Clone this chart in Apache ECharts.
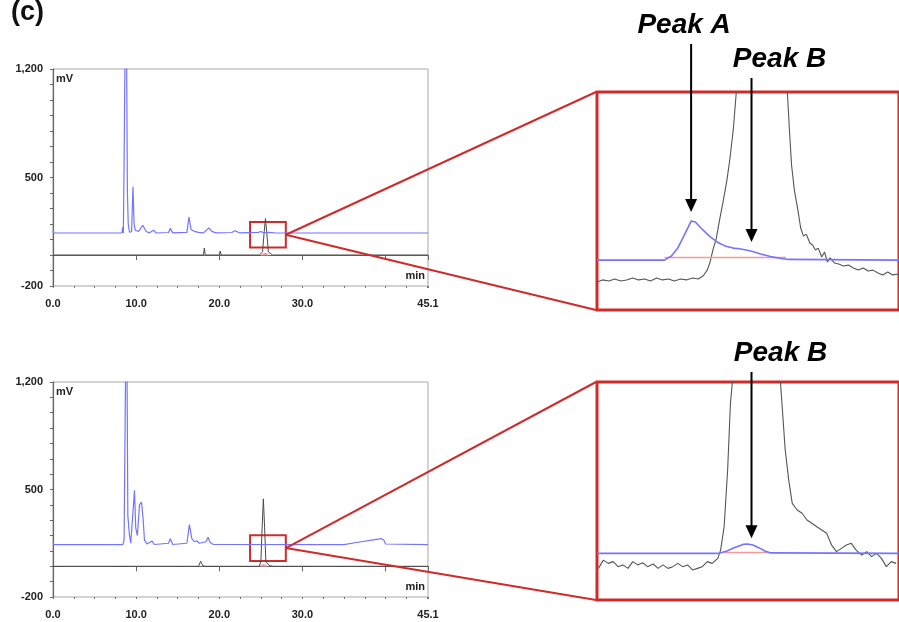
<!DOCTYPE html>
<html>
<head>
<meta charset="utf-8">
<script src="https://cdn.jsdelivr.net/npm/echarts@6/dist/echarts.min.js"></script>
<style>
  html, body { margin: 0; padding: 0; background: #fff; }
  #chart { width: 899px; height: 622px; }
</style>
</head>
<body>
<div id="chart"></div>
<script>
// ---------- Chromatogram traces (time in min, signal in mV) ----------
// Run 1: UV trace (blue, offset baseline) and fluorescence trace (black)
const run1Blue = [
  [0, 160], [0.1, 142], [8.3, 142], [8.38, 180], [8.46, 142], [8.55, 600], [8.68, 1400],
  [8.85, 1300], [8.95, 400], [9.05, 200], [9.2, 148], [9.45, 150], [9.62, 440], [9.75, 200],
  [9.9, 160], [10.3, 152], [10.8, 192], [11.2, 152], [11.6, 143], [12.1, 160], [12.4, 142],
  [13.9, 145], [14.1, 172], [14.4, 143], [16.1, 146], [16.35, 245], [16.6, 165], [17.0, 152],
  [17.5, 146], [18.1, 143], [18.75, 175], [19.1, 152], [19.6, 143], [21.5, 145], [21.9, 156],
  [22.4, 143], [24.7, 146], [25.0, 152], [25.3, 144], [26.0, 146], [26.8, 142], [45.1, 142]
];
const run1Black = [
  [0, 0], [0.1, 8], [0.2, 0], [18.1, 0], [18.2, 45], [18.3, 2], [18.6, 0], [20.0, 0],
  [20.1, 25], [20.2, 2], [20.5, 0], [24.8, 0], [25.2, 20], [25.4, 150], [25.55, 235],
  [25.7, 150], [25.9, 20], [26.4, 0], [45.1, 0]
];
const run1Integration = [[25.1, 2], [25.5, 7], [25.9, 2]];

// Run 2
const run2Blue = [
  [0, 160], [0.1, 141], [8.4, 141], [8.55, 170], [8.62, 600], [8.75, 1400], [8.9, 1300],
  [9.0, 330], [9.2, 200], [9.35, 150], [9.55, 160], [9.8, 495], [9.95, 250], [10.15, 200],
  [10.4, 400], [10.65, 417], [10.85, 300], [11.0, 170], [11.3, 145], [11.9, 165], [12.2, 142],
  [13.9, 150], [14.1, 180], [14.4, 142], [16.1, 150], [16.4, 271], [16.7, 180], [17.0, 160],
  [17.3, 166], [17.6, 150], [18.4, 160], [18.65, 189], [18.9, 155], [19.3, 142], [35.0, 141],
  [36.5, 155], [38.5, 172], [39.5, 180], [39.8, 170], [40.0, 145], [40.2, 141], [45.1, 141]
];
const run2Black = [
  [0, 0], [0.1, 12], [0.25, 0], [17.5, 0], [17.75, 33], [18.0, 5], [18.3, 0], [21.1, 0],
  [21.3, 10], [21.5, 0], [24.8, 0], [25.0, 30], [25.15, 250], [25.3, 439], [25.45, 250],
  [25.6, 30], [26.0, 5], [26.5, 0], [45.1, 0]
];
const run2Integration = [[24.95, 2], [25.3, 7], [25.7, 2]];

// Enlarged window (23.7 – 28.0 min), detail signal units
const detail1Blue = [
  [23.70, 22.9], [24.66, 22.9], [24.76, 24.8], [24.85, 28.4], [24.93, 33.5], [25.00, 38.1],
  [25.04, 40.8], [25.10, 40.4], [25.18, 37.6], [25.30, 33.9], [25.41, 31.2], [25.52, 29.4],
  [25.64, 28.4], [25.75, 28.0], [25.89, 27.1], [26.03, 25.7], [26.17, 24.5], [26.32, 23.6],
  [26.43, 23.2], [28.00, 22.9]
];
const detail1Black = [
  [23.70, 12.8], [23.78, 13.8], [23.87, 13.3], [23.95, 14.2], [24.04, 13.3], [24.12, 13.8],
  [24.21, 14.7], [24.29, 13.8], [24.38, 14.2], [24.46, 13.3], [24.55, 14.7], [24.63, 13.8],
  [24.72, 14.2], [24.80, 13.3], [24.89, 14.2], [24.97, 13.8], [25.06, 14.7], [25.14, 14.2],
  [25.21, 15.6], [25.27, 18.3], [25.31, 22.0], [25.35, 27.5], [25.40, 33.0], [25.44, 40.4],
  [25.50, 50.5], [25.55, 59.6], [25.59, 68.8], [25.64, 82.6], [25.68, 98.6], [25.72, 114.7],
  [26.03, 330], [26.37, 114.7], [26.41, 100], [26.44, 82.6], [26.47, 66.5], [26.51, 55.0],
  [26.56, 45.9], [26.60, 37.6], [26.64, 33.9], [26.68, 34.8], [26.73, 30.7], [26.77, 29.8],
  [26.81, 27.5], [26.85, 28.4], [26.90, 24.3], [26.94, 26.6], [26.98, 22.0], [27.02, 23.9],
  [27.08, 21.6], [27.14, 21.1], [27.21, 20.2], [27.28, 20.6], [27.35, 19.3], [27.42, 18.3],
  [27.49, 19.3], [27.56, 17.9], [27.63, 18.3], [27.70, 17.0], [27.77, 16.1], [27.84, 17.4],
  [27.91, 16.1], [28.00, 16.5]
];
const detail1Integration = [[24.66, 24.1], [26.39, 24.1]];

const detail2Blue = [
  [23.70, 21.4], [25.44, 21.4], [25.55, 22.5], [25.67, 24.2], [25.78, 25.5], [25.84, 25.7],
  [25.92, 25.2], [26.01, 23.9], [26.09, 22.5], [26.17, 21.6], [28.00, 21.4]
];
const detail2Black = [
  [23.72, 14.5], [23.79, 18.3], [23.86, 16.8], [23.93, 17.6], [24.00, 15.3], [24.07, 16.1],
  [24.14, 14.5], [24.21, 17.6], [24.28, 16.1], [24.35, 17.1], [24.42, 15.3], [24.50, 16.5],
  [24.57, 14.5], [24.64, 16.1], [24.71, 14.5], [24.78, 15.3], [24.85, 16.8], [24.92, 15.3],
  [24.99, 16.1], [25.06, 13.8], [25.13, 14.5], [25.20, 15.3], [25.27, 17.6], [25.34, 16.8],
  [25.42, 19.1], [25.46, 22.9], [25.51, 33.6], [25.56, 59.6], [25.60, 90.2], [25.63, 100.8],
  [25.96, 300], [26.31, 100.8], [26.38, 68.8], [26.43, 55.0], [26.48, 44.3], [26.55, 41.3],
  [26.62, 39.8], [26.69, 36.7], [26.76, 35.2], [26.83, 33.6], [26.90, 32.1], [26.97, 30.6],
  [27.04, 25.2], [27.11, 22.2], [27.18, 23.7], [27.25, 25.2], [27.32, 26.0], [27.39, 22.9],
  [27.47, 20.6], [27.54, 22.2], [27.61, 19.9], [27.68, 21.4], [27.75, 19.1], [27.82, 15.3],
  [27.89, 17.6], [27.96, 16.8]
];
const detail2Integration = [[25.51, 21.8], [26.16, 21.8]];

// Enlarged window bounds on the full chromatograms [t0, t1, mV0, mV1]
const zoomBox1 = [23.7, 28.0, 48, 213];
const zoomBox2 = [23.7, 28.0, 35, 202];

// Axis ticks
const timeRange = [0, 45.1];
const timeLabels = [0, 10, 20, 30, 45.1];
const signalRange = [-200, 1200];
const signalLabels = [-200, 500, 1200];
const detailTime = [23.7, 28.0];
const detailSignal = [0, 100];

// Peak annotations in the enlarged windows: [grid, label, time, tip signal]
const peakNotes = [
  [2, 'Peak A', 25.04, 45.0],
  [2, 'Peak B', 25.90, 31.2],
  [3, 'Peak B', 25.90, 28.3]
];

// ---------- Styling ----------
const BLUE = '#7474ff';
const BLACK = '#4a4a4a';
const RED = '#cf2b2b';
const PINK = '#f29a9a';
const FONT = '"Liberation Sans", Arial, sans-serif';

const chart = echarts.init(document.getElementById('chart'), null, { renderer: 'canvas' });

const mainGrids = [
  { left: 53, top: 69, width: 375, height: 217 },
  { left: 53, top: 382, width: 375, height: 215 }
];
const detailGrids = [
  { left: 597, top: 92, width: 306, height: 218 },
  { left: 597, top: 382, width: 306, height: 218 }
];

function fmtTime(v) {
  const hit = timeLabels.some(l => Math.abs(l - v) < 1e-6);
  return hit ? v.toFixed(1) : '';
}
function fmtSignal(v) {
  return signalLabels.includes(v) ? v.toLocaleString('en-US') : '';
}

const grids = [];
const xAxes = [];
const yAxes = [];
mainGrids.forEach((g, i) => {
  grids.push(Object.assign({ show: true, borderColor: '#a8a8a8', borderWidth: 1, backgroundColor: '#fff' }, g));
  // labelled axis, major ticks every 10 min
  xAxes.push({
    type: 'value', gridIndex: i, position: 'bottom', min: timeRange[0], max: timeRange[1], interval: 10,
    axisLine: { show: true, lineStyle: { color: '#666', width: 1.2 } },
    axisTick: { show: true, length: 5, lineStyle: { color: '#666' } },
    axisLabel: { formatter: fmtTime, color: '#222', fontFamily: FONT, fontWeight: 'bold', fontSize: 11, margin: 12, showMaxLabel: true },
    splitLine: { show: false }
  });
  // minor ticks every 2.5 min
  xAxes.push({
    type: 'value', gridIndex: i, position: 'bottom', min: timeRange[0], max: timeRange[1], interval: 2.5,
    axisLine: { show: false },
    axisTick: { show: true, length: 2, lineStyle: { color: '#777' } },
    axisLabel: { show: false }, splitLine: { show: false }
  });
  yAxes.push({
    type: 'value', gridIndex: i, min: signalRange[0], max: signalRange[1], interval: 100,
    axisLine: { show: true, lineStyle: { color: '#666', width: 1.2 } },
    axisTick: { show: true, length: 3, lineStyle: { color: '#666' } },
    axisLabel: { formatter: fmtSignal, color: '#222', fontFamily: FONT, fontWeight: 'bold', fontSize: 11, margin: 10, showMinLabel: true, showMaxLabel: true },
    splitLine: { show: false }
  });
});
detailGrids.forEach((g, i) => {
  grids.push(Object.assign({ show: true, borderColor: RED, borderWidth: 3, backgroundColor: '#fff' }, g));
  xAxes.push({ type: 'value', gridIndex: 2 + i, min: detailTime[0], max: detailTime[1], show: false });
  yAxes.push({ type: 'value', gridIndex: 2 + i, min: detailSignal[0], max: detailSignal[1], show: false });
});

function line(data, xi, yi, color, width, z) {
  return {
    type: 'line', data, xAxisIndex: xi, yAxisIndex: yi, showSymbol: false, symbol: 'none',
    lineStyle: { color, width }, clip: true, z: z || 2, animation: false, silent: true
  };
}
function boxArea(b) {
  return {
    silent: true,
    itemStyle: { color: 'rgba(0,0,0,0)', borderColor: RED, borderWidth: 2 },
    data: [[{ coord: [b[0], b[3]] }, { coord: [b[1], b[2]] }]]
  };
}

const series = [
  line(run1Black, 0, 0, BLACK, 1, 2),
  line(run1Integration, 0, 0, PINK, 2, 3),
  Object.assign(line(run1Blue, 0, 0, BLUE, 1.2, 4), { markArea: boxArea(zoomBox1) }),
  line(run2Black, 2, 1, BLACK, 1, 2),
  line(run2Integration, 2, 1, PINK, 2, 3),
  Object.assign(line(run2Blue, 2, 1, BLUE, 1.2, 4), { markArea: boxArea(zoomBox2) }),
  line(detail1Black, 4, 2, '#555', 1.1, 2),
  line(detail1Integration, 4, 2, PINK, 1.5, 3),
  line(detail1Blue, 4, 2, BLUE, 1.6, 4),
  line(detail2Black, 5, 3, '#555', 1.1, 2),
  line(detail2Integration, 5, 3, PINK, 1.5, 3),
  line(detail2Blue, 5, 3, BLUE, 1.6, 4)
];

chart.setOption({
  animation: false,
  backgroundColor: '#fff',
  grid: grids,
  xAxis: xAxes,
  yAxis: yAxes,
  series
});

// ---------- Overlay: zoom connectors, unit labels, peak arrows ----------
const graphics = [];
graphics.push({
  type: 'text', x: 11, y: 26, z: 20,
  style: { text: '(c)', font: 'bold 27px ' + FONT, fill: '#111', textVerticalAlign: 'bottom' }
});

const boxes = [zoomBox1, zoomBox2];
boxes.forEach((b, i) => {
  const xi = i * 2, yi = i;
  const from = chart.convertToPixel({ xAxisIndex: xi, yAxisIndex: yi }, [b[1], (b[2] + b[3]) / 2]);
  const topC = chart.convertToPixel({ xAxisIndex: 4 + i, yAxisIndex: 2 + i }, [detailTime[0], detailSignal[1]]);
  const botC = chart.convertToPixel({ xAxisIndex: 4 + i, yAxisIndex: 2 + i }, [detailTime[0], detailSignal[0]]);
  [topC, botC].forEach(p => {
    graphics.push({
      type: 'line', z: 10, silent: true,
      shape: { x1: from[0], y1: from[1], x2: p[0] - 1, y2: p[1] },
      style: { stroke: RED, lineWidth: 2 }
    });
  });
  // unit labels inside the main plots
  const tl = chart.convertToPixel({ xAxisIndex: xi, yAxisIndex: yi }, [timeRange[0], signalRange[1]]);
  const br = chart.convertToPixel({ xAxisIndex: xi, yAxisIndex: yi }, [timeRange[1], signalRange[0]]);
  graphics.push({
    type: 'text', x: tl[0] + 3, y: tl[1] + 4, z: 10,
    style: { text: 'mV', font: 'bold 11px ' + FONT, fill: '#222' }
  });
  graphics.push({
    type: 'text', x: br[0] - 3, y: br[1] - 16, z: 10,
    style: { text: 'min', font: 'bold 11px ' + FONT, fill: '#222', textAlign: 'right' }
  });
});

// arrow layout: shaft top in px and label offset
const arrowLayout = [
  { shaftTop: 44, dx: -7 },
  { shaftTop: 78, dx: 28 },
  { shaftTop: 372, dx: 29 }
];
peakNotes.forEach((n, i) => {
  const g = n[0];
  const tip = chart.convertToPixel({ xAxisIndex: 2 + g, yAxisIndex: g }, [n[2], n[3]]);
  const L = arrowLayout[i];
  graphics.push({
    type: 'line', z: 15, silent: true,
    shape: { x1: tip[0], y1: L.shaftTop, x2: tip[0], y2: tip[1] - 10 },
    style: { stroke: '#000', lineWidth: 2 }
  });
  graphics.push({
    type: 'polygon', z: 15, silent: true,
    shape: { points: [[tip[0], tip[1]], [tip[0] - 6, tip[1] - 13], [tip[0] + 6, tip[1] - 13]] },
    style: { fill: '#000' }
  });
  graphics.push({
    type: 'text', z: 15, x: tip[0] + L.dx, y: L.shaftTop - 5,
    style: {
      text: n[1], font: 'italic bold 28px ' + FONT, fill: '#000',
      textAlign: 'center', textVerticalAlign: 'bottom'
    }
  });
});

chart.setOption({ graphic: graphics });
</script>
</body>
</html>
